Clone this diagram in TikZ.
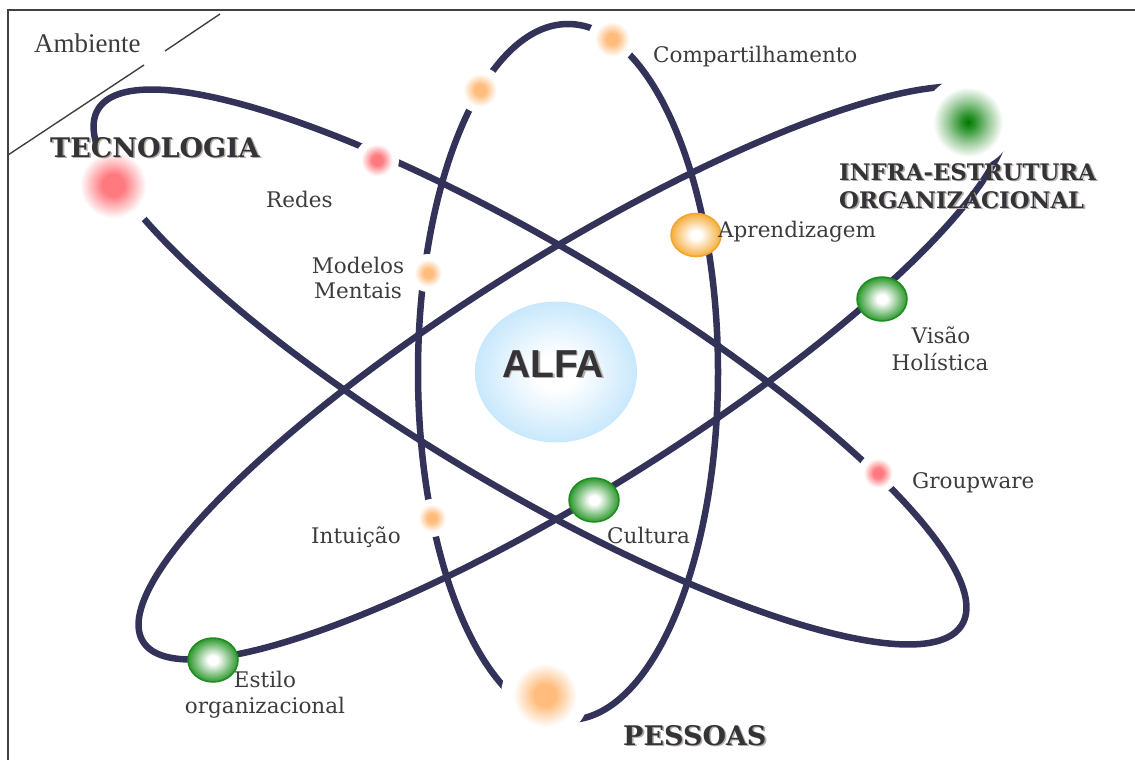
\documentclass[tikz,border=0pt]{standalone}
\usepackage{fontspec}
\setmainfont{DejaVu Serif}
\newfontfamily\ambfont{Liberation Serif}
\newfontfamily\alfafont{Liberation Sans}
\usetikzlibrary{shapes.geometric}

\definecolor{orbitc}{RGB}{51,51,89}
\definecolor{framec}{RGB}{64,64,64}
\definecolor{labelc}{RGB}{60,60,60}
\definecolor{headc}{RGB}{52,52,56}
\definecolor{dropc}{RGB}{180,172,168}
\definecolor{glowpink}{RGB}{255,122,128}
\definecolor{gloworange}{RGB}{255,188,125}
\definecolor{glowgreenA}{RGB}{0,120,0}
\definecolor{glowgreenB}{RGB}{40,145,40}
\definecolor{glowgreenC}{RGB}{150,200,150}
\definecolor{ballgreen}{RGB}{45,152,45}
\definecolor{ballgreenedge}{RGB}{30,140,30}
\definecolor{ballorange}{RGB}{246,174,62}
\definecolor{ballorangeedge}{RGB}{242,166,45}
\definecolor{alfablue}{RGB}{200,232,252}

% soft glows: colour in the middle, fading to white
\pgfdeclareradialshading{pinkglow}{\pgfpoint{0bp}{0bp}}{color(0bp)=(glowpink); color(6bp)=(glowpink); color(18bp)=(white); color(50bp)=(white)}
\pgfdeclareradialshading{orangeglow}{\pgfpoint{0bp}{0bp}}{color(0bp)=(gloworange); color(6bp)=(gloworange); color(18bp)=(white); color(50bp)=(white)}
\pgfdeclareradialshading{greenglow}{\pgfpoint{0bp}{0bp}}{color(0bp)=(glowgreenA); color(3.6bp)=(glowgreenB); color(11bp)=(glowgreenC); color(19bp)=(white); color(50bp)=(white)}
% balls: white highlight, coloured rim
\pgfdeclareradialshading{greenball}{\pgfpoint{0bp}{0bp}}{color(0bp)=(white); color(5bp)=(white); color(25bp)=(ballgreen); color(50bp)=(ballgreen)}
\pgfdeclareradialshading{orangeball}{\pgfpoint{0bp}{0bp}}{color(0bp)=(white); color(5bp)=(white); color(25bp)=(ballorange); color(50bp)=(ballorange)}
\pgfdeclareradialshading{alfashade}{\pgfpoint{0bp}{0bp}}{color(0bp)=(white); color(6bp)=(white); color(25bp)=(alfablue); color(50bp)=(alfablue)}

\begin{document}
\begin{tikzpicture}[x=1pt,y=-1pt,
  frameline/.style={draw=framec, line width=2},
  envline/.style={draw=framec, line width=1.4},
  orbitline/.style={draw=orbitc, line width=6.5},
  gball/.style={ellipse, minimum width=50, minimum height=44, inner sep=0,
                draw=ballgreenedge, line width=1.5, shading=greenball},
  oball/.style={ellipse, minimum width=50, minimum height=43, inner sep=0,
                draw=ballorangeedge, line width=1.5, shading=orangeball},
  lbl/.style={text=labelc, font=\fontsize{21.5}{26}\selectfont, inner sep=0},
  head/.style={text=headc, font=\bfseries\fontsize{27}{32}\selectfont, inner sep=0},
  headsmall/.style={text=headc, font=\bfseries\fontsize{22.8}{28}\selectfont, inner sep=0},
  dropcopy/.style={text=dropc, xshift=1.6pt, yshift=-1.6pt}
]
\useasboundingbox (0,0) rectangle (1135,760);

% frame
\draw[frameline] (8,760) -- (8,10) -- (1135,10);

% boundary of the environment
\coordinate (envA) at (8,155);
\coordinate (envB) at (144,65);
\coordinate (envC) at (165,51);
\coordinate (envD) at (220,14);
\draw[envline] (envA) -- (envB);
\draw[envline] (envC) -- (envD);
\node[text=labelc, font=\ambfont\fontsize{27}{30}\selectfont, inner sep=0, anchor=base west] (amb) at (34,53) {Ambiente};

% the three orbits
\draw[orbitline] (568,372) ellipse [x radius=150, y radius=348];
\draw[orbitline, rotate around={-30.8:(530,367)}] (530,367) ellipse [x radius=503, y radius=120];
\draw[orbitline, rotate around={32:(573,373)}] (573,373) ellipse [x radius=507, y radius=117];

% glowing points
\path[shading=pinkglow] (113,185) circle [radius=46];
\path[shading=pinkglow] (377,160) circle [radius=22];
\path[shading=pinkglow] (878,473) circle [radius=20];
\path[shading=orangeglow] (612,39) circle [radius=24];
\path[shading=orangeglow] (480,90) circle [radius=23];
\path[shading=orangeglow] (428,273) circle [radius=19];
\path[shading=orangeglow] (432,518) circle [radius=19];
\path[shading=orangeglow] (545,695) circle [radius=44];
\path[shading=greenglow] (968,122) circle [radius=46];

% balls on the orbits
\node[oball] (aprBall) at (696,235) {};
\node[gball] (visBall) at (882,299) {};
\node[gball] (culBall) at (594,500) {};
\node[gball] (estBall) at (213,660) {};

% nucleus
\node[ellipse, minimum width=162, minimum height=141, inner sep=0, shading=alfashade] (alfa) at (556,372) {};
\node[text=dropc, font=\alfafont\bfseries\fontsize{39}{44}\selectfont, inner sep=0, anchor=base, xshift=1.8pt, yshift=-1.8pt] (alfaS) at (553,377) {ALFA};
\node[text=headc, font=\alfafont\bfseries\fontsize{39}{44}\selectfont, inner sep=0, anchor=base] (alfaT) at (553,377) {ALFA};

% labels
\node[lbl, anchor=base west] (comp) at (653,63) {Compartilhamento};
\node[lbl, anchor=base west] (redes) at (266,207) {Redes};
\node[lbl, anchor=base] (mod1) at (358,273) {Modelos};
\node[lbl, anchor=base] (mod2) at (358,298) {Mentais};
\node[lbl, anchor=base west] (apr) at (718,237) {Aprendizagem};
\node[lbl, anchor=base] (vis1) at (941,343) {Visão};
\node[lbl, anchor=base] (vis2) at (940,370) {Holística};
\node[lbl, anchor=base west] (grp) at (912,488) {Groupware};
\node[lbl, anchor=base west] (int) at (311,543) {Intuição};
\node[lbl, anchor=base west] (cul) at (607,543) {Cultura};
\node[lbl, anchor=base] (est1) at (265,687) {Estilo};
\node[lbl, anchor=base] (est2) at (265,713) {organizacional};

% headings
\node[head, dropcopy, anchor=base west] (tecS) at (50,157) {TECNOLOGIA};
\node[head, anchor=base west] (tec) at (50,157) {TECNOLOGIA};
\node[headsmall, dropcopy, anchor=base west] (inf1S) at (839,180) {INFRA-ESTRUTURA};
\node[headsmall, anchor=base west] (inf1) at (839,180) {INFRA-ESTRUTURA};
\node[headsmall, dropcopy, anchor=base west] (inf2S) at (839,208) {ORGANIZACIONAL};
\node[headsmall, anchor=base west] (inf2) at (839,208) {ORGANIZACIONAL};
\node[head, dropcopy, anchor=base west] (pesS) at (623,745) {PESSOAS};
\node[head, anchor=base west] (pes) at (623,745) {PESSOAS};
\end{tikzpicture}
\end{document}
